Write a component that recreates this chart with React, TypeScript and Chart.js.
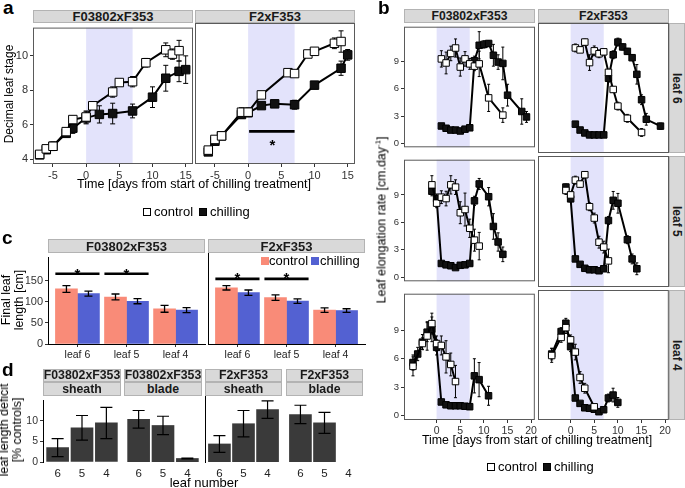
import React, { useEffect, useRef } from 'react';
import { Chart, registerables } from 'chart.js';
Chart.register(...registerables);

const FONT = '"Liberation Sans", Arial, Helvetica, sans-serif';
Chart.defaults.font.family = FONT;

// ---------- shared ----------
const chillingPeriod = [0, 7];
const seriesNames = ['control', 'chilling'];

// ---------- panel a: decimal leaf stage, rows are [day, mean, sd] ----------
const aF03802Control = [[-7,4.28,0.12],[-6,4.6,0.2],[-5,4.75,0.25],[-3,5.6,0.2],[-2,6.3,0.2],[0,6.45,0.35],[1,7.1,0.2],[4,7.9,0.3],[5,8.45,0.1],[7,8.5,0.3],[9,9.6,0.25],[12,10.35,0.4],[13,10.1,0.3],[14,10.3,0.6]];
const aF03802Chilling = [[-7,4.25,0.1],[-6,4.55,0.15],[-5,4.75,0.2],[-3,5.5,0.2],[-2,5.8,0.3],[0,6.4,0.35],[2,6.6,0.5],[4,6.65,0.6],[7,6.8,0.4],[10,7.6,0.6],[12,8.7,0.75],[14,9.1,0.6],[15,9.2,0.8]];
const aF2Control = [[-6,4.5,0.15],[-5,5.1,0.1],[-4,5.3,0.1],[-1,6.63,0.25],[0,6.63,0.25],[2,7.6,0.2],[6,8.85,0.1],[7,8.8,0.15],[9,9.9,0.2],[10,10.05,0.15],[13,10.5,0.3],[14,10.6,0.6]];
const aF2Chilling = [[-6,4.4,0.1],[-5,5.0,0.1],[-4,5.3,0.1],[-1,6.5,0.2],[0,6.6,0.2],[2,7.0,0.15],[4,7.1,0.15],[7,7.05,0.25],[10,8.15,0.2],[14,9.1,0.4],[15,9.85,0.3]];
const aXTicks = [-5, 0, 5, 10, 15];
const aYTicks = [4, 6, 8, 10];
const aF2Signif = [{ from: 0.15, to: 7, y: 5.55, star: 3.65, starY: 4.97 }];

// ---------- panel b: leaf elongation rate, rows are [day, mean, sd] ----------
const bF03802Leaf6Control = [[1,9.3,0.9],[2,8.85,1.2],[3,9.9,0.8],[4,10.5,1.0],[5,8.4,1.0],[6,9.3,0.8],[7,8.75,0.6],[8,8.5,0.5],[9,8.75,1.4],[11,5.0,1.5],[14,3.1,0.8]];
const bF03802Leaf6Chilling = [[1,1.9,0.15],[2,1.65,0.15],[3,1.45,0.1],[4,1.45,0.1],[5,1.35,0.1],[6,1.55,0.1],[7,1.7,0.2],[8,9.1,0.5],[9,10.8,1.5],[10,10.9,0.4],[11,11.0,0.3],[12,9.7,1.2],[13,8.95,0.8],[14,8.8,1.8],[15,5.3,1.2],[18,3.5,1.4],[19,2.9,0.6]];
const bF2Leaf6Control = [[1,10.3,0.4],[2,10.1,0.2],[3,10.9,0.3],[4,8.8,0.8],[5,10.0,0.5],[6,9.7,0.4],[7,9.9,0.3],[8,7.8,0.3],[9,6.05,0.3],[10,4.35,0.4],[12,3.1,0.4],[15,1.65,0.4]];
const bF2Leaf6Chilling = [[1,2.5,0.1],[2,1.9,0.1],[3,1.6,0.1],[4,1.4,0.1],[5,1.4,0.1],[6,1.4,0.1],[7,1.4,0.1],[8,7.2,0.4],[9,9.6,0.4],[10,10.9,0.4],[11,10.4,0.3],[12,9.95,0.3],[13,9.3,0.3],[14,7.6,1.0],[15,5.0,0.5],[16,3.0,0.6],[19,2.3,0.3]];
const bF03802Leaf5Control = [[-1,10.1,1.0],[0,8.1,0.5],[1,8.75,0.7],[2,8.6,0.8],[3,10.1,1.0],[4,9.85,0.8],[5,7.05,1.2],[6,7.4,1.8],[7,5.35,1.0],[8,4.05,1.2],[9,3.4,1.5]];
const bF03802Leaf5Chilling = [[-1,9.4,0.5],[0,8.6,0.5],[1,1.5,0.15],[2,1.35,0.1],[3,1.25,0.1],[4,1.05,0.15],[5,1.3,0.1],[6,1.35,0.1],[7,1.5,0.2],[8,8.35,0.5],[9,10.2,0.6],[11,8.8,1.0],[12,5.55,1.4],[13,3.85,1.0],[14,2.5,0.8]];
const bF2Leaf5Control = [[-1,9.35,0.4],[0,8.9,0.3],[1,10.4,0.4],[2,10.0,0.3],[3,10.95,0.3],[4,7.7,0.4],[5,6.55,0.5],[6,4.1,0.6],[7,3.6,0.6],[8,2.2,1.2]];
const bF2Leaf5Chilling = [[-1,9.7,0.3],[0,8.5,0.3],[1,2.4,0.15],[2,1.85,0.1],[3,1.45,0.1],[4,1.3,0.1],[5,1.3,0.1],[6,1.2,0.1],[7,1.4,0.1],[8,6.3,0.4],[9,8.35,0.9],[10,8.05,1.0],[12,4.35,0.4],[13,2.4,0.5],[14,1.4,0.6]];
const bF03802Leaf4Control = [[-5,5.2,1.0],[-3,7.6,0.6],[-2,8.4,1.5],[-1,9.7,1.1],[0,7.6,0.8],[1,7.4,1.0],[2,6.2,1.7],[3,5.4,1.2],[4,3.6,1.7]];
const bF03802Leaf4Chilling = [[-5,5.6,0.8],[-4,6.5,0.7],[-3,7.75,0.8],[-2,8.8,1.0],[-1,9.1,1.3],[0,7.2,0.8],[1,1.45,0.2],[2,1.15,0.1],[3,1.05,0.1],[4,1.05,0.1],[5,1.05,0.1],[6,1.0,0.1],[7,0.95,0.2],[8,4.2,1.8],[9,3.8,1.8],[11,2.1,1.0]];
const bF2Leaf4Control = [[-4,6.15,0.7],[-2,8.0,0.5],[-1,9.0,0.6],[0,7.75,0.5],[1,6.5,0.8],[2,3.9,0.6],[3,2.8,0.5],[5,0.9,0.2]];
const bF2Leaf4Chilling = [[-4,6.3,0.6],[-2,8.6,0.4],[-1,9.45,0.5],[0,7.05,0.5],[1,1.8,0.2],[2,1.25,0.15],[3,0.8,0.1],[4,0.75,0.1],[5,0.65,0.1],[6,0.4,0.1],[7,0.6,0.1],[8,1.8,0.4],[9,2.1,0.7],[10,1.35,0.5]];
const bXTicks = [0, 5, 10, 15, 20];
const bYTicks = [0, 3, 6, 9];

// ---------- panel c: final leaf length [cm] ----------
const cLeaves = ['leaf 6', 'leaf 5', 'leaf 4'];
const cF03802Control = [130, 111, 83];
const cF03802ControlErr = [8, 7, 8];
const cF03802Chilling = [119, 101, 80];
const cF03802ChillingErr = [6, 6, 6];
const cF2Control = [126, 104, 76];
const cF2ControlErr = [5, 6, 5];
const cF2Chilling = [115, 96, 75];
const cF2ChillingErr = [6, 5, 4];
const cYTicks = [0, 50, 100, 150];
const cF03802Signif = [{ from: 0.55, to: 1.45, y: 166, star: 1, starY: 174 }, { from: 1.55, to: 2.45, y: 166, star: 2, starY: 174 }];
const cF2Signif = [{ from: 0.55, to: 1.45, y: 146, star: 1, starY: 155 }, { from: 1.55, to: 2.45, y: 146, star: 2, starY: 155 }];

// ---------- panel d: leaf length deficit [% controls] ----------
const dLeafNumbers = ['6', '5', '4'];
const dF03802Sheath = [3.5, 8.3, 9.5];
const dF03802SheathErr = [2.2, 3.0, 3.8];
const dF03802Blade = [9.7, 8.3, 0.8];
const dF03802BladeErr = [2.0, 2.1, 0.1];
const dF2Sheath = [4.1, 8.7, 11.9];
const dF2SheathErr = [1.9, 3.0, 2.0];
const dF2Blade = [10.8, 8.9, null];
const dF2BladeErr = [2.1, 2.4, 0];
const dYTicks = [0, 5, 10];

// ---------- plugins ----------
const shadePlugin = {
  id: 'shade',
  beforeDatasetsDraw(chart: any, _a: any, o: any) {
    if (!o || o.from == null) return;
    const { ctx, chartArea, scales } = chart;
    const x1 = scales.x.getPixelForValue(o.from);
    const x2 = scales.x.getPixelForValue(o.to);
    ctx.save();
    ctx.fillStyle = o.color;
    ctx.fillRect(x1, chartArea.top, x2 - x1, chartArea.bottom - chartArea.top);
    ctx.restore();
  },
};

function drawErrors(chart: any, o: any) {
  const { ctx, scales } = chart;
  ctx.save();
  ctx.strokeStyle = o.color || '#000';
  ctx.lineWidth = o.width || 1;
  chart.data.datasets.forEach((ds: any, i: number) => {
    if (!ds.errors) return;
    const meta = chart.getDatasetMeta(i);
    meta.data.forEach((el: any, j: number) => {
      const raw = ds.data[j];
      const v = raw && typeof raw === 'object' ? raw.y : raw;
      const e = ds.errors[j];
      if (v == null || !e) return;
      const yt = scales.y.getPixelForValue(v + e);
      const yb = scales.y.getPixelForValue(v - e);
      const c = o.cap;
      ctx.beginPath();
      ctx.moveTo(el.x, yt); ctx.lineTo(el.x, yb);
      ctx.moveTo(el.x - c, yt); ctx.lineTo(el.x + c, yt);
      ctx.moveTo(el.x - c, yb); ctx.lineTo(el.x + c, yb);
      ctx.stroke();
    });
  });
  ctx.restore();
}

const errPlugin = {
  id: 'errbars',
  beforeDatasetsDraw(chart: any, _a: any, o: any) { if (o && !o.after) drawErrors(chart, o); },
  afterDatasetsDraw(chart: any, _a: any, o: any) { if (o && o.after) drawErrors(chart, o); },
};

const framePlugin = {
  id: 'frame',
  afterDraw(chart: any, _a: any, o: any) {
    if (!o || !o.color) return;
    const { ctx, chartArea: a } = chart;
    ctx.save();
    ctx.strokeStyle = o.color;
    ctx.lineWidth = 1;
    ctx.strokeRect(a.left + 0.5, a.top + 0.5, a.right - a.left - 1, a.bottom - a.top - 1);
    ctx.restore();
  },
};

const sigPlugin = {
  id: 'sig',
  afterDatasetsDraw(chart: any, _a: any, o: any) {
    if (!o || !o.items) return;
    const { ctx, scales } = chart;
    ctx.save();
    ctx.strokeStyle = '#000';
    ctx.fillStyle = '#000';
    ctx.lineWidth = o.width;
    ctx.font = `bold ${o.size}px ${FONT}`;
    ctx.textAlign = 'center';
    ctx.textBaseline = 'alphabetic';
    o.items.forEach((it: any) => {
      const y = scales.y.getPixelForValue(it.y);
      ctx.beginPath();
      ctx.moveTo(scales.x.getPixelForValue(it.from), y);
      ctx.lineTo(scales.x.getPixelForValue(it.to), y);
      ctx.stroke();
      ctx.fillText('*', scales.x.getPixelForValue(it.star), scales.y.getPixelForValue(it.starY) + o.size * 0.57);
    });
    ctx.restore();
  },
};

// ---------- config builders ----------
function axis(dir: 'x' | 'y', min: number, max: number, ticks: number[], show: boolean, size: number, fontSize: number, extra: any = {}) {
  return {
    type: 'linear',
    min, max, display: true, offset: false,
    afterBuildTicks: (s: any) => { s.ticks = ticks.map((v) => ({ value: v })); },
    afterFit: (s: any) => { if (dir === 'x') s.height = size; else s.width = size; },
    grid: { display: show, offset: false, drawOnChartArea: false, drawTicks: true, tickLength: 3, color: '#333', tickColor: '#333' },
    border: { display: false },
    ticks: { display: show, color: '#333', font: { family: FONT, size: fontSize }, padding: 2, maxRotation: 0, minRotation: 0, autoSkip: false },
    ...extra,
  };
}

function lineDataset(rows: number[][], filled: boolean, r: number, lw: number) {
  return {
    data: rows.map((row) => ({ x: row[0], y: row[1] })),
    errors: rows.map((row) => row[2]),
    borderColor: '#000',
    borderWidth: lw,
    pointStyle: 'rect',
    pointRadius: r,
    pointBackgroundColor: filled ? '#111' : '#fff',
    pointBorderColor: '#000',
    pointBorderWidth: 1,
    tension: 0,
    fill: false,
  };
}

const SHADE = '#e3e3fb';

function lineConfig(f: any) {
  return {
    type: 'line',
    data: { datasets: [lineDataset(f.ctrl, false, f.r, f.lw), lineDataset(f.chill, true, f.r, f.lw)] },
    options: {
      responsive: false, animation: false, events: [],
      plugins: {
        legend: { display: false }, tooltip: { enabled: false },
        shade: { from: chillingPeriod[0], to: chillingPeriod[1], color: SHADE },
        errbars: { cap: f.cap, width: 1, after: false },
        frame: { color: '#5a5a5a' },
        sig: { items: f.sig || [], width: 2.6, size: 15 },
      },
      scales: {
        x: axis('x', f.xr[0], f.xr[1], f.xt, f.xShow, f.padB, f.font),
        y: axis('y', f.yr[0], f.yr[1], f.yt, f.yShow, f.padL, f.yFont || f.font),
      },
    },
    plugins: [shadePlugin, errPlugin, framePlugin, sigPlugin],
  };
}

function barConfig(b: any) {
  return {
    type: 'bar',
    data: {
      datasets: b.series.map((s: any) => ({
        data: s.vals.map((v: any, i: number) => ({ x: i + 1, y: v })),
        errors: s.errs,
        backgroundColor: s.color,
        borderWidth: 0,
        barThickness: b.thick,
        grouped: true,
      })),
    },
    options: {
      responsive: false, animation: false, events: [],
      plugins: {
        legend: { display: false }, tooltip: { enabled: false },
        errbars: { cap: b.cap, width: b.errW, after: true },
        sig: { items: b.sig || [], width: 2.6, size: 15 },
      },
      scales: {
        x: axis('x', 0.4, 3.6, [1, 2, 3], true, b.padB, b.xFont, {
          grid: { display: b.xMarks, offset: false, drawOnChartArea: false, drawTicks: true, tickLength: 3, color: '#333', tickColor: '#333' },
          border: { display: b.xLine, color: '#000', width: 1 },
          ticks: { display: true, color: '#222', font: { family: FONT, size: b.xFont }, padding: 2, maxRotation: 0, minRotation: 0, autoSkip: false, callback: (v: any) => b.labels[v - 1] },
        }),
        y: axis('y', b.yr[0], b.yr[1], b.yt, b.yShow, b.padL, b.yFont, {
          border: { display: b.yLine, color: '#000', width: 1 },
        }),
      },
    },
    plugins: [errPlugin, sigPlugin],
  };
}

// ---------- components ----------
function Facet({ x, y, w, h, padL, padB, cfg }: any) {
  const ref = useRef<HTMLCanvasElement>(null);
  const T = 4, R = 4;
  const cw = w + padL + R;
  const ch = h + T + padB;
  useEffect(() => {
    const c: any = cfg();
    c.options.layout = { padding: { top: T, right: R, left: 0, bottom: 0 }, autoPadding: false };
    c.options.devicePixelRatio = 1;
    const chart = new Chart(ref.current as HTMLCanvasElement, c);
    return () => chart.destroy();
  }, []);
  return <canvas ref={ref} width={cw} height={ch} style={{ position: 'absolute', left: x - padL, top: y - T, width: cw, height: ch }} />;
}

function Strip({ x, y, w, h, text, size = 12.5, vertical = false }: any) {
  return (
    <div style={{ position: 'absolute', left: x, top: y, width: w, height: h, boxSizing: 'border-box', background: '#d9d9d9', border: '1px solid #b3b3b3', display: 'flex', alignItems: 'center', justifyContent: 'center', fontWeight: 'bold', fontSize: size, writingMode: vertical ? 'vertical-rl' : undefined, whiteSpace: 'nowrap', overflow: 'hidden', color: '#1a1a1a', lineHeight: 1 } as any}>
      {text}
    </div>
  );
}

function Txt({ x, y, size, bold, rotate, anchor = 'middle', lh, children }: any) {
  const tx = anchor === 'middle' ? '-50%' : '0';
  return (
    <div style={{ position: 'absolute', left: x, top: y, fontSize: size, fontWeight: bold ? 'bold' : 'normal', lineHeight: `${lh ?? size * 1.05}px`, whiteSpace: 'nowrap', textAlign: 'center', color: '#000', transform: `translate(${tx}, -50%)${rotate ? ` rotate(${rotate}deg)` : ''}` }}>
      {children}
    </div>
  );
}

function Box({ x, y, s, fill, border }: any) {
  return <div style={{ position: 'absolute', left: x, top: y, width: s, height: s, boxSizing: 'border-box', background: fill, border: border ? `1px solid ${border}` : 'none' }} />;
}

const CTRL_COLOR = '#f98b78';
const CHILL_COLOR = '#5361d2';
const D_COLOR = '#3a3a3a';

export default function App() {
  // panel a geometry
  const aY = 23, aH = 141, aW = 160;
  const aXR = [-8, 16.1], aYR = [3.72, 11.64];
  // panel b geometry
  const bX = [404, 538], bW = 131;
  const bRows = [{ y: 23, h: 130 }, { y: 156, h: 131 }, { y: 290, h: 130 }];
  const bXR = [-6.9, 20.8], bYR = [-0.45, 12.85];
  const bData = [
    [bF03802Leaf6Control, bF03802Leaf6Chilling, bF2Leaf6Control, bF2Leaf6Chilling],
    [bF03802Leaf5Control, bF03802Leaf5Chilling, bF2Leaf5Control, bF2Leaf5Chilling],
    [bF03802Leaf4Control, bF03802Leaf4Chilling, bF2Leaf4Control, bF2Leaf4Chilling],
  ];
  const rowNames = ['leaf 6', 'leaf 5', 'leaf 4'];
  // panel c geometry
  const cY = 253, cH = 91, cW = 157;
  // panel d geometry
  const dY = 396, dH = 66;
  const dFacets = [
    { x: 43, w: 78, g: 'F03802xF353', t: 'sheath', vals: dF03802Sheath, errs: dF03802SheathErr, yShow: true, yLine: true },
    { x: 124, w: 78, g: 'F03802xF353', t: 'blade', vals: dF03802Blade, errs: dF03802BladeErr, yShow: false, yLine: false },
    { x: 205, w: 77, g: 'F2xF353', t: 'sheath', vals: dF2Sheath, errs: dF2SheathErr, yShow: false, yLine: true },
    { x: 286, w: 77, g: 'F2xF353', t: 'blade', vals: dF2Blade, errs: dF2BladeErr, yShow: false, yLine: false },
  ];

  return (
    <div style={{ position: 'fixed', left: 0, top: 0, width: 685, height: 488, background: '#fff', overflow: 'hidden', fontFamily: FONT }}>
      {/* ---------------- panel a ---------------- */}
      <Txt x={3} y={8} size={19} bold anchor="start">a</Txt>
      <Strip x={33} y={10} w={aW} h={13} text="F03802xF353" size={13} />
      <Strip x={195} y={10} w={aW} h={13} text="F2xF353" size={13} />
      <Facet x={33} y={aY} w={aW} h={aH} padL={33} padB={20} cfg={() => lineConfig({ ctrl: aF03802Control, chill: aF03802Chilling, xr: aXR, yr: aYR, xt: aXTicks, yt: aYTicks, xShow: true, yShow: true, padL: 33, padB: 20, r: 6, lw: 2, cap: 2.5, font: 11 })} />
      <Facet x={195} y={aY} w={aW} h={aH} padL={2} padB={20} cfg={() => lineConfig({ ctrl: aF2Control, chill: aF2Chilling, xr: aXR, yr: aYR, xt: aXTicks, yt: aYTicks, xShow: true, yShow: false, padL: 2, padB: 20, r: 6, lw: 2, cap: 2.5, font: 11, sig: aF2Signif })} />
      <Txt x={9} y={94} size={12} rotate={-90}>Decimal leaf stage</Txt>
      <Txt x={194} y={185} size={12.6}>Time [days from start of chilling treatment]</Txt>
      <Box x={143} y={208} s={8} fill="#fff" border="#000" />
      <Txt x={154} y={212} size={13} anchor="start">{seriesNames[0]}</Txt>
      <Box x={199} y={208} s={8} fill="#111" border="#000" />
      <Txt x={210} y={212} size={13} anchor="start">{seriesNames[1]}</Txt>

      {/* ---------------- panel b ---------------- */}
      <Txt x={378} y={8} size={19} bold anchor="start">b</Txt>
      <Strip x={bX[0]} y={9} w={bW} h={14} text="F03802xF353" size={12.2} />
      <Strip x={bX[1]} y={9} w={bW} h={14} text="F2xF353" size={12.2} />
      {bRows.map((row, ri) => (
        <React.Fragment key={ri}>
          {[0, 1].map((ci) => (
            <Facet key={ci} x={bX[ci]} y={row.y} w={bW} h={row.h} padL={ci === 0 ? 24 : 2} padB={ri === 2 ? 16 : 2}
              cfg={() => lineConfig({ ctrl: bData[ri][ci * 2], chill: bData[ri][ci * 2 + 1], xr: bXR, yr: bYR, xt: bXTicks, yt: bYTicks, xShow: ri === 2, yShow: ci === 0, padL: ci === 0 ? 24 : 2, padB: ri === 2 ? 16 : 2, r: 4.6, lw: 2, cap: 1.5, font: 10.5, yFont: 9.5 })} />
          ))}
          <Strip x={669} y={row.y} w={16} h={row.h} text={rowNames[ri]} size={12} vertical />
        </React.Fragment>
      ))}
      <Txt x={380} y={220} size={12.4} rotate={-90}>Leaf elongation rate [cm.day<sup style={{ fontSize: 8 }}>-1</sup>]</Txt>
      <Txt x={537} y={441} size={12.4}>Time [days from start of chilling treatment]</Txt>
      <Box x={487} y={463} s={8} fill="#fff" border="#000" />
      <Txt x={498} y={467} size={13} anchor="start">{seriesNames[0]}</Txt>
      <Box x={543} y={463} s={8} fill="#111" border="#000" />
      <Txt x={554} y={467} size={13} anchor="start">{seriesNames[1]}</Txt>

      {/* ---------------- panel c ---------------- */}
      <Txt x={2} y={238} size={19} bold anchor="start">c</Txt>
      <Strip x={48} y={239} w={cW} h={14} text="F03802xF353" size={13} />
      <Strip x={208} y={239} w={cW} h={14} text="F2xF353" size={13} />
      <Facet x={48} y={cY} w={cW} h={cH} padL={22} padB={16} cfg={() => barConfig({
        series: [{ vals: cF03802Control, errs: cF03802ControlErr, color: CTRL_COLOR }, { vals: cF03802Chilling, errs: cF03802ChillingErr, color: CHILL_COLOR }],
        labels: cLeaves, yr: [0, 204], yt: cYTicks, yShow: true, yLine: true, xLine: true, xMarks: true, padL: 22, padB: 16, thick: 22, cap: 4, errW: 1.3, xFont: 10.5, yFont: 11, sig: cF03802Signif })} />
      <Facet x={208} y={cY} w={cW} h={cH} padL={2} padB={16} cfg={() => barConfig({
        series: [{ vals: cF2Control, errs: cF2ControlErr, color: CTRL_COLOR }, { vals: cF2Chilling, errs: cF2ChillingErr, color: CHILL_COLOR }],
        labels: cLeaves, yr: [0, 204], yt: cYTicks, yShow: false, yLine: true, xLine: true, xMarks: true, padL: 2, padB: 16, thick: 22, cap: 4, errW: 1.3, xFont: 10.5, yFont: 11, sig: cF2Signif })} />
      <Txt x={13} y={300} size={12.4} lh={13} rotate={-90}>Final leaf<br />length [cm]</Txt>
      <Box x={261} y={257} s={8} fill={CTRL_COLOR} />
      <Txt x={269} y={261} size={13} anchor="start">{seriesNames[0]}</Txt>
      <Box x={311} y={257} s={8} fill={CHILL_COLOR} />
      <Txt x={320} y={261} size={13} anchor="start">{seriesNames[1]}</Txt>

      {/* ---------------- panel d ---------------- */}
      <Txt x={2} y={370} size={19} bold anchor="start">d</Txt>
      {dFacets.map((f, i) => (
        <React.Fragment key={i}>
          <Strip x={f.x} y={369} w={f.w} h={13} text={f.g} size={12.3} />
          <Strip x={f.x} y={382} w={f.w} h={14} text={f.t} size={12.3} />
          <Facet x={f.x} y={dY} w={f.w} h={dH} padL={f.yShow ? 20 : 2} padB={16} cfg={() => barConfig({
            series: [{ vals: f.vals, errs: f.errs, color: D_COLOR }],
            labels: dLeafNumbers, yr: [0, 15], yt: dYTicks, yShow: f.yShow, yLine: f.yLine, xLine: false, xMarks: false, padL: f.yShow ? 20 : 2, padB: 16, thick: 22, cap: 6, errW: 1.2, xFont: 11.5, yFont: 10.5 })} />
        </React.Fragment>
      ))}
      <Txt x={11} y={430} size={12.4} lh={13} rotate={-90}>leaf length deficit<br />[% controls]</Txt>
      <Txt x={204} y={483} size={13}>leaf number</Txt>
    </div>
  );
}
